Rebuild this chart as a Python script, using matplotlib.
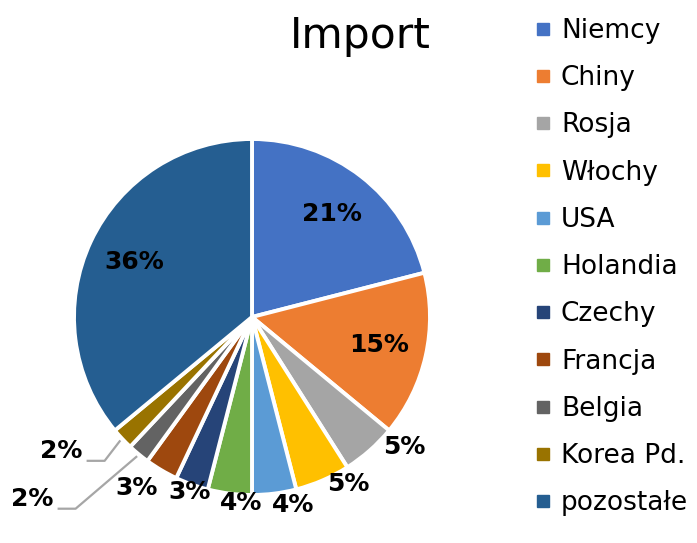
import matplotlib.pyplot as plt
from matplotlib.lines import Line2D
import numpy as np

kraje = ['Niemcy', 'Chiny', 'Rosja', 'Włochy', 'USA', 'Holandia', 'Czechy',
         'Francja', 'Belgia', 'Korea Pd.', 'pozostałe']
udzial = [21, 15, 5, 5, 4, 4, 3, 3, 2, 2, 36]
kolory = ['#4472C4', '#ED7D31', '#A5A5A5', '#FFC000', '#5B9BD5', '#70AD47',
          '#264478', '#9E480E', '#636363', '#997300', '#255E91']

# labels: inside for the big slices, outside (x, y) for the small ones
wewnatrz = [0, 1, 10]
na_zewnatrz = {2: (0.854, -0.730), 3: (0.539, -0.938), 4: (0.230, -1.056),
               5: (-0.062, -1.045), 6: (-0.348, -0.983), 7: (-0.646, -0.961),
               8: (-1.236, -1.022), 9: (-1.073, -0.753)}
z_linia = [8, 9]

plt.rcParams['font.family'] = ['DejaVu Sans']
fig = plt.figure(figsize=(6.97, 5.43), dpi=100)

W, H = 697, 543
cx, cy, r = 252, 317, 178
box = 200
ax = fig.add_axes([(cx - box) / W, (H - cy - box) / H, 2 * box / W, 2 * box / H])
wedges, _ = ax.pie(udzial, colors=kolory, startangle=90, counterclock=False,
                   radius=1, wedgeprops=dict(edgecolor='white', linewidth=2.8))
lim = box / r
ax.set_xlim(-lim, lim)
ax.set_ylim(-lim, lim)
ax.set_aspect('equal')
ax.axis('off')

for i, w in enumerate(wedges):
    mid = np.deg2rad((w.theta1 + w.theta2) / 2)
    txt = f'{udzial[i]}%'
    if i in wewnatrz:
        x, y = 0.73 * np.cos(mid), 0.73 * np.sin(mid)
    else:
        x, y = na_zewnatrz[i]
    ax.text(x, y, txt, ha='center', va='center', fontsize=18,
            fontweight='heavy', color='black', clip_on=False)
    if i in z_linia:
        ex, ey = 1.02 * np.cos(mid), 1.02 * np.sin(mid)
        ax.plot([ex, x + 0.245, x + 0.15], [ey, y - 0.055, y - 0.055],
                color='#A6A6A6', lw=1.6, clip_on=False)

fig.text(360 / W, 1 - 36 / H, 'Import', ha='center', va='center',
         fontsize=30.5, color='black')

uchwyty = [Line2D([], [], marker='s', linestyle='none', markersize=9,
                  markerfacecolor=k, markeredgecolor=k) for k in kolory]
fig.legend(uchwyty, kraje, loc='upper left', bbox_to_anchor=(534 / W, 1 - 18 / H),
           frameon=False, fontsize=19, handlelength=0.7, handletextpad=0.32,
           labelspacing=0.805, borderaxespad=0, borderpad=0)

fig.savefig('out.png', dpi=100, facecolor='white')
